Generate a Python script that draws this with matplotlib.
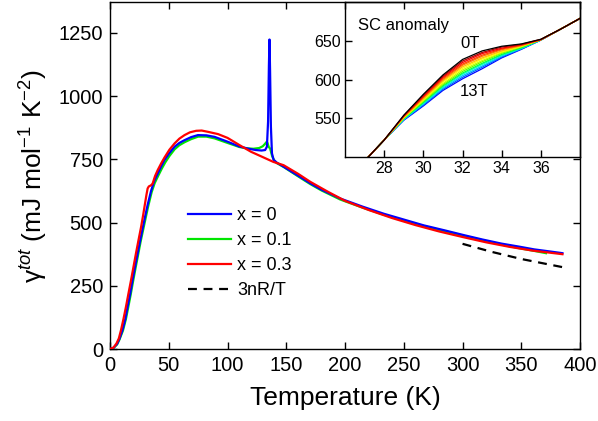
import matplotlib.pyplot as plt
import matplotlib as mpl

plt.rcParams['font.family'] = ['Liberation Sans', 'DejaVu Sans']
plt.rcParams['mathtext.fontset'] = 'custom'
plt.rcParams['mathtext.rm'] = 'Liberation Sans'
plt.rcParams['mathtext.it'] = 'Liberation Sans:italic'
plt.rcParams['mathtext.bf'] = 'Liberation Sans:bold'

# --- main panel data ---
T_x0 = [0, 3, 6, 8, 10.7, 13, 15, 17, 19.2, 21.3, 23.5, 25.6, 27.8, 30, 32, 34.9,
        37.5, 40.6, 43.5, 46.3, 50, 54.9, 59, 63.4, 69, 74.8, 82, 89, 100, 110,
        118, 124, 129, 132, 133.5, 134.5, 135.2, 135.7, 136.2, 136.9, 137.8, 139.2,
        142, 147.7, 155, 162, 170.5, 180, 196, 215, 233, 250, 267, 285, 301.5, 317,
        333, 348, 361, 374, 385]
g_x0 = [0, 5, 20, 40, 76, 118, 168, 215, 273, 325, 378, 428, 478, 527, 570, 625,
        663, 694, 722, 747, 772, 800, 815, 826, 838, 846, 845, 839, 820, 801,
        792, 787, 785, 787, 800, 900, 1120, 1224, 1100, 880, 774, 748,
        737, 721, 700, 680, 655, 630, 595, 563, 535, 512, 489, 469, 450, 433,
        417, 405, 394, 386, 379]

T_x01 = [0, 3, 6, 8, 11, 13.5, 15.5, 17.5, 19.7, 21.8, 24, 26, 28.3, 30.5, 32.5, 35.4,
         38, 41, 44, 47, 50.5, 55, 59, 63.5, 69, 75, 82, 89, 100, 110, 116, 122,
         127, 130, 132, 133, 134, 135, 136.3, 138, 140, 142, 147.7, 155, 162, 170.5,
         180, 196, 215, 233, 250, 267, 285, 301.5, 317, 333, 348, 361, 371]
g_x01 = [0, 4, 18, 37, 73, 118, 165, 213, 270, 322, 375, 424, 474, 522, 565, 620,
         656, 685, 713, 738, 763, 790, 806, 818, 830, 840, 840, 833, 815, 799, 794, 792,
         795, 802, 812, 818, 815, 800, 792, 762, 744, 735, 720, 698, 677, 652,
         627, 591, 559, 531, 508, 486, 466, 447, 430, 413, 399, 388, 379]

T_x03 = [0, 3, 5.5, 7.5, 9.4, 11.5, 13.6, 15.7, 17.9, 20, 22.1, 24.2, 26.4, 28.2, 29.8,
         31, 32, 33, 34.3, 35.3, 36.3, 38.3, 40.6, 43.5, 46.3, 50.5, 54.9, 59, 63.4,
         68, 73.3, 78, 83.3, 91.9, 100, 110.7, 120, 130, 139, 147.7, 160, 170.5, 185,
         200, 220, 240, 260, 280, 300, 320, 340, 360, 385]
g_x03 = [0, 6, 22, 42, 76, 120, 168, 220, 273, 326, 379, 430, 482, 530, 576,
         610, 635, 643, 646, 649, 655, 684, 708, 734, 757, 788, 813, 832, 846,
         857, 863, 864, 859, 850, 835, 805, 780, 759, 740, 727, 693, 661, 623,
         586, 550, 518, 490, 465, 443, 422, 404, 389, 375]

T_3nR = [300, 325, 350, 375, 387]
g_3nR = [416, 384, 356, 333, 322]

# --- inset: SC anomaly, 0T (top) .. 13T (bottom) ---
T_sc = [27, 28, 29, 30, 31, 32, 33, 34, 35, 36, 37, 38]
g_sc = [
    [495, 522, 554, 581, 606, 626, 637, 643, 646, 652, 665, 679],
    [495, 522, 553.5, 580, 604.5, 624, 635, 642, 645.5, 652, 665, 679],
    [495, 522, 553, 578.5, 603, 622, 633.5, 640.5, 645, 651.5, 665, 679],
    [495, 522, 552.5, 577.5, 601.5, 620, 631.5, 639.5, 644.5, 651.5, 665, 679],
    [495, 522, 552, 576.5, 600, 618.5, 630, 638.5, 644, 651.5, 665, 679],
    [495, 522, 551.5, 575, 598.5, 616.5, 628, 637, 643.5, 651.5, 665, 679],
    [495, 522, 551, 574, 597, 614.5, 626.5, 636, 643, 651.5, 665, 679],
    [495, 522, 550.5, 573, 595, 612.5, 624.5, 635, 642.5, 651.5, 665, 679],
    [495, 522, 550, 572, 593.5, 610.5, 623, 634, 642, 651.5, 665, 679],
    [495, 522, 549.5, 570.5, 592, 608.5, 621, 632.5, 641, 651.5, 665, 679],
    [495, 522, 549, 569.5, 590.5, 607, 619.5, 631.5, 640.5, 651, 665, 679],
    [495, 522, 548.5, 568.5, 589, 605, 617.5, 630.5, 640, 651, 665, 679],
    [495, 522, 548, 567, 587.5, 603, 616, 629, 639.5, 651, 665, 679],
    [495, 522, 547.5, 566, 586, 601, 614, 628, 639, 651, 665, 679],
]
sc_colors = ['#000000', '#b00000', '#ff0000', '#ff4000', '#ff8000', '#ffbf00',
             '#ffff00', '#bfff00', '#60ff00', '#00ff40', '#00ffbf', '#00bfff',
             '#0060ff', '#0000ff']

fig = plt.figure(figsize=(5.98, 4.21), dpi=100)
ax = fig.add_axes([0.184, 0.171, 0.786, 0.824])

ax.plot(T_x0, g_x0, color='#0000ff', lw=1.6, label='x = 0', zorder=3)
ax.plot(T_x01, g_x01, color='#00e600', lw=1.6, label='x = 0.1', zorder=2)
ax.plot(T_x03, g_x03, color='#ff0000', lw=1.6, label='x = 0.3', zorder=4)
ax.plot(T_3nR, g_3nR, color='black', lw=1.6, ls=(0, (4, 3)), label='3nR/T')

ax.set_xlim(0, 400)
ax.set_ylim(0, 1372)
ax.set_xticks(range(0, 401, 50))
ax.set_yticks([0, 250, 500, 750, 1000, 1250])
ax.tick_params(direction='in', top=True, right=True, length=5, width=1,
               labelsize=14.5, pad=5)
for s in ax.spines.values():
    s.set_linewidth(1)
ax.set_xlabel('Temperature (K)', fontsize=19, labelpad=8)
ax.set_ylabel(r'γ$^{tot}$ (mJ mol$^{-1}$ K$^{-2}$)', fontsize=19, labelpad=6)

ax.legend(loc='upper left', bbox_to_anchor=(0.15, 0.43), frameon=False,
          fontsize=13, handlelength=2.4, handletextpad=0.35, labelspacing=0.45,
          borderaxespad=0)

# --- inset ---
axin = fig.add_axes([0.577, 0.627, 0.393, 0.368], facecolor='none')
for row, c in zip(g_sc[::-1], sc_colors[::-1]):
    axin.plot(T_sc, row, color=c, lw=0.9)
axin.set_xlim(26, 38)
axin.set_ylim(500, 700)
axin.set_xticks([28, 30, 32, 34, 36])
axin.set_yticks([550, 600, 650])
axin.tick_params(direction='in', length=5, width=1, labelsize=11.5, pad=3)
for s in axin.spines.values():
    s.set_linewidth(1)
axin.text(0.055, 0.85, 'SC anomaly', transform=axin.transAxes, fontsize=12,
          va='center', ha='left')
axin.text(32.4, 646, '0T', fontsize=12, ha='center', va='center')
axin.text(32.6, 584, '13T', fontsize=12, ha='center', va='center')

fig.savefig('out.png', dpi=100)
